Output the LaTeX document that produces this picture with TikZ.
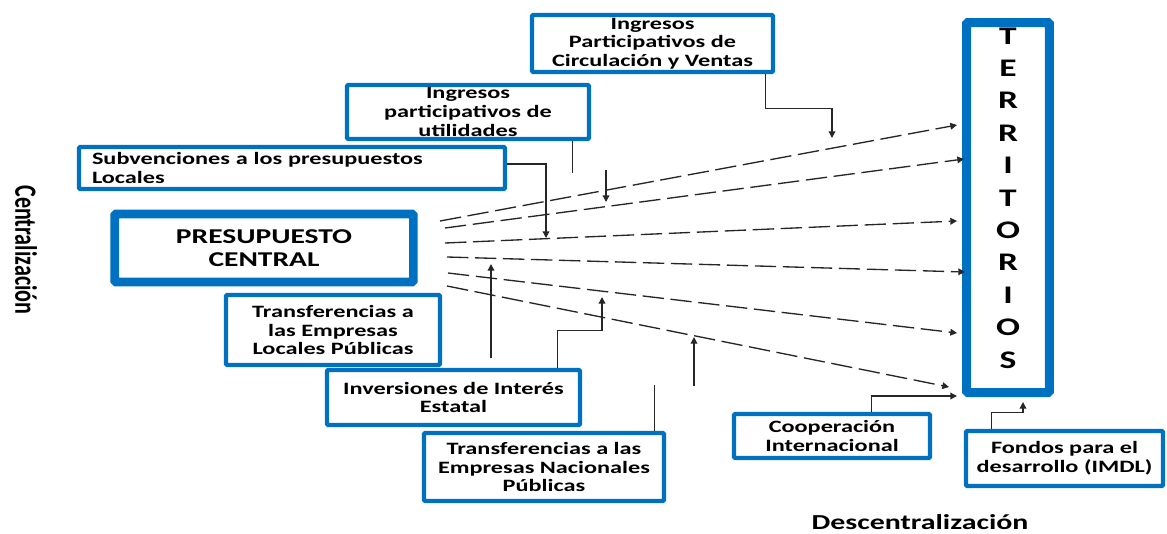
\documentclass[tikz,border=0pt]{standalone}
\usepackage{fontspec}
\setmainfont{Carlito}[FakeStretch=1.4]
\newfontfamily\sidefont{Carlito}[FakeStretch=0.714]
\usetikzlibrary{arrows.meta,calc}
\definecolor{boxblue}{RGB}{0,112,192}

\begin{document}
\begin{tikzpicture}[x=0.75pt,y=-0.75pt,
  box/.style={draw=boxblue,line width=3.3pt,fill=white,rounded corners=1pt,
    align=center,inner sep=0pt,font=\bfseries\fontsize{13}{14}\selectfont},
  bigbox/.style={box,line width=6.5pt},
  link/.style={draw=black!85,line width=1pt},
  conn/.style={link,-{Triangle[length=5pt,width=5pt]}},
  fan/.style={conn,dash pattern=on 16pt off 5pt}]
\useasboundingbox (0,0) rectangle (1167,533);
% boxes
\node[bigbox,minimum width=224pt,minimum height=51pt,
  font=\bfseries\fontsize{15.8}{17.5}\selectfont] (pres) at (264,248) {PRESUPUESTO\\CENTRAL};
\node[box,minimum width=319.5pt,minimum height=31.5pt,align=left,text width=300pt]
  (subv) at (292,168) {Subvenciones a los presupuestos\\Locales};
\node[box,minimum width=181.5pt,minimum height=40.5pt] (util) at (468,112)
  {Ingresos\\participativos de\\utilidades};
\node[box,minimum width=180.75pt,minimum height=42.75pt] (circ) at (652.5,43.5)
  {Ingresos\\Participativos de\\Circulación y Ventas};
\node[bigbox,line width=6.75pt,minimum width=62pt,minimum height=277.5pt] (terr) at (1008,207.5) {};
\node[font=\bfseries\fontsize{19}{24.3}\selectfont,align=center] (terrtxt) at (1008,198)
  {T\\E\\R\\R\\I\\T\\O\\R\\I\\O\\S};
\node[box,minimum width=160.5pt,minimum height=52.5pt] (tloc) at (333,330)
  {Transferencias a\\las Empresas\\Locales Públicas};
\node[box,minimum width=189.75pt,minimum height=41.25pt] (inv) at (453.5,397.5)
  {Inversiones de Interés\\Estatal};
\node[box,minimum width=180pt,minimum height=51pt] (tnac) at (544,467)
  {Transferencias a las\\Empresas Nacionales\\Públicas};
\node[box,minimum width=147pt,minimum height=33pt] (coop) at (832,436)
  {Cooperación\\Internacional};
\node[box,minimum width=147.75pt,minimum height=41.25pt] (fond) at (1064.5,458.5)
  {Fondos para el\\desarrollo (IMDL)};
% axis labels
\node[font=\sidefont\bfseries\fontsize{23.2}{24}\selectfont,rotate=-90] (cent) at (26,250) {Centralización};
\node[font=\bfseries\fontsize{16}{18}\selectfont,anchor=base] (desc) at (920,529) {Descentralización};
% flows to the territories
\foreach \i/\sx/\sy/\ex/\ey in {1/440/221/957/125,2/445/228/964/159,3/445/243/957/221,
    4/447/257/965/272,5/448/273/957/333,6/447/286/949/387}{
  \coordinate (fs\i) at (\sx,\sy);
  \coordinate (fe\i) at (\ex,\ey);
  \draw[fan] (fs\i) -- (fe\i);
}
% upper sources
\coordinate (a1) at (832,138);
\coordinate (a2t) at (606,170);
\coordinate (a2) at (606,202);
\coordinate (a3) at (546,238);
\draw[conn] ($(circ.south east)+(-10,0)$) -- ++(0,34) -| (a1);
\draw[link] ($(util.south east)+(-19,0)$) -- ++(0,32);
\draw[conn] (a2t) -- (a2);
\draw[conn] ($(subv.east)+(0,-4)$) -| (a3);
% lower sources
\coordinate (b1t) at (491,358);
\coordinate (b1) at (491,264);
\coordinate (b2) at (602,297);
\coordinate (b3t) at (694,386);
\coordinate (b3) at (694,337);
\coordinate (b4) at (957,396);
\draw[conn] (b1t) -- (b1);
\draw[conn] ($(inv.north west)+(233,0)$) -- ++(0,-37) -| (b2);
\draw[link] ($(tnac.north east)+(-12,0)$) -- ++(0,-46);
\draw[conn] (b3t) -- (b3);
\draw[conn] ($(coop.north west)+(140,0)$) |- (b4);
\draw[conn] ($(fond.north west)+(28,0)$) -- ++(0,-16) -| ($(terr.south)+(15,5)$);
\end{tikzpicture}
\end{document}
